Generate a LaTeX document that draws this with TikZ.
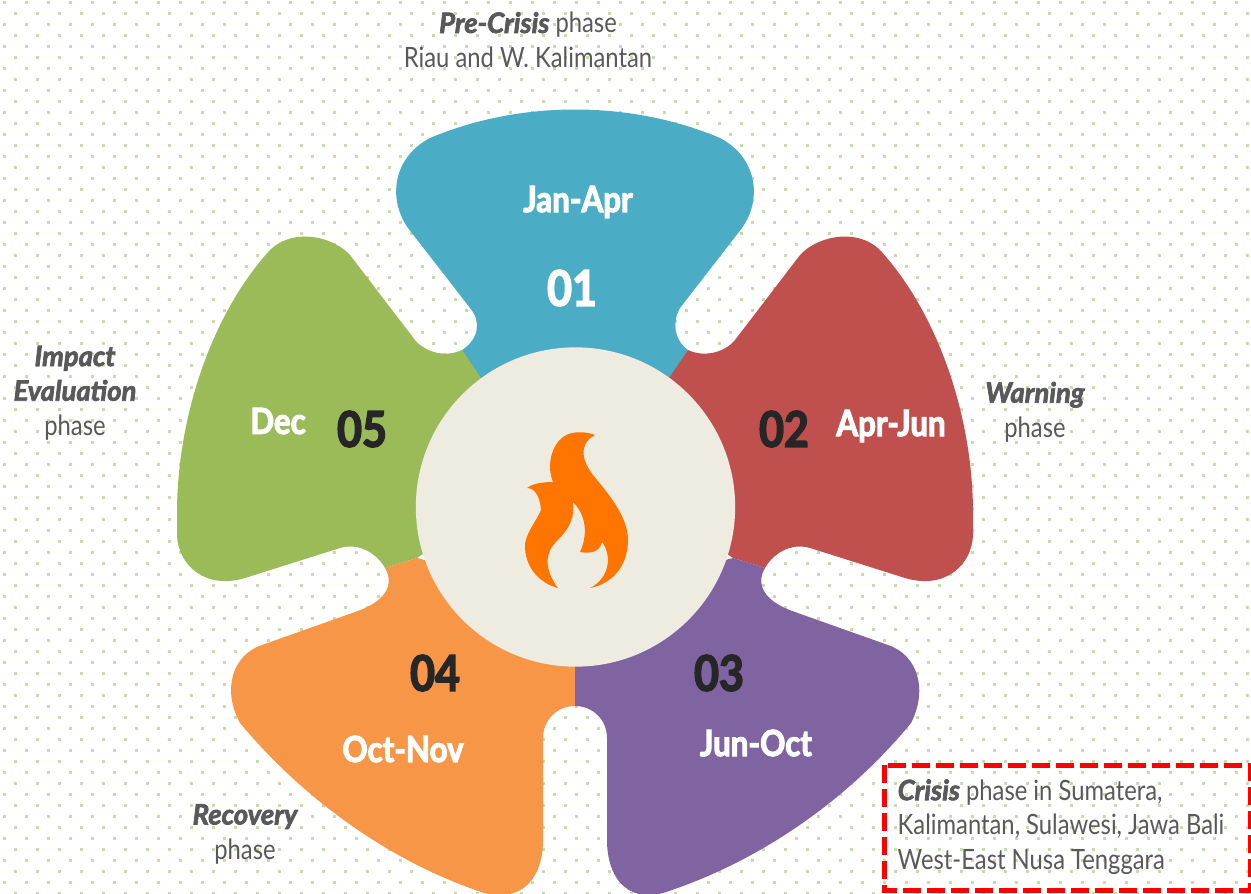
\documentclass[tikz,border=0pt]{standalone}
\usepackage{fontspec}
\newfontfamily\condfont[FakeStretch=0.85]{Lato}
\newfontfamily\headfont[FakeStretch=0.98,BoldItalicFeatures={FakeBold=2.5}]{Lato}
\newfontfamily\heavyfont[FakeStretch=0.87,BoldFeatures={FakeBold=3}]{Lato}
\newcommand{\phasehead}[1]{{\headfont\bfseries\itshape #1}}
\usetikzlibrary{positioning}
\definecolor{dotgreen}{HTML}{C9DAAB}
\definecolor{petalblue}{HTML}{4BACC6}
\definecolor{petalred}{HTML}{C0504D}
\definecolor{petalpurple}{HTML}{8064A2}
\definecolor{petalorange}{HTML}{F79646}
\definecolor{petalgreen}{HTML}{9BBB59}
\definecolor{hubcream}{HTML}{EEECE1}
\definecolor{flameorange}{HTML}{FF7500}
\definecolor{phasegray}{HTML}{595959}
\definecolor{numdark}{HTML}{262626}
\tikzset{
  monthlabel/.style={text=white,font=\heavyfont\bfseries\fontsize{27}{30}\selectfont},
  numlabel/.style={text=numdark,font=\heavyfont\bfseries\fontsize{37}{40}\selectfont},
  phaselabel/.style={text=phasegray,align=center,font=\condfont\fontsize{21}{26}\selectfont},
}
\begin{document}
\begin{tikzpicture}[x=0.75pt,y=-0.75pt]
\useasboundingbox (0,0) rectangle (1251,893);
\clip (0,0) rectangle (1251,893);

% dotted background
\foreach \i in {0,...,56} {
  \foreach \j in {0,...,40} {
    \fill[dotgreen] (4+22*\i-1.5,2+22*\j-1.5) rectangle ++(3,3);
    \fill[dotgreen] (15+22*\i-1.5,13+22*\j-1.5) rectangle ++(3,3);
  }
}

%petals
\fill[petalblue] (481,380) -- (462,350) .. controls (478,340) and (482,322) .. (470,308) -- (408,228) .. controls (388,200) and (392,158) .. (430,138) .. controls (520,100) and (630,100) .. (720,138) .. controls (758,158) and (762,200) .. (742,228) -- (680,308) .. controls (672,322) and (674,340) .. (688,350) -- (669,380) -- cycle;
\fill[petalred] (650,500) -- (669,378) -- (688,350) .. controls (705,358) and (725,352) .. (735,340) -- (800,255) .. controls (815,238) and (855,226) .. (880,250) .. controls (935,310) and (972,410) .. (973,510) -- (973,535) .. controls (972,565) and (945,590) .. (905,578) -- (810,548) .. controls (790,542) and (772,555) .. (765,568) -- (733,558) -- cycle;
\fill[petalgreen] (500,500) -- (481,378) -- (462,350) .. controls (445,358) and (425,352) .. (415,340) -- (350,255) .. controls (335,238) and (295,226) .. (270,250) .. controls (215,310) and (178,410) .. (177,510) -- (177,535) .. controls (178,565) and (205,590) .. (245,578) -- (340,548) .. controls (360,542) and (378,555) .. (385,568) -- (417,558) -- cycle;
\fill[petalorange] (575,600) -- (575,706) .. controls (557,706) and (543,720) .. (543,738) -- (543,840) .. controls (543,875) and (525,903) .. (484,893) .. controls (385,860) and (300,795) .. (240,723) .. controls (222,690) and (232,655) .. (262,645) -- (355,612) .. controls (385,602) and (395,585) .. (385,568) -- (417,558) -- cycle;
\fill[petalpurple] (575,600) -- (575,706) .. controls (593,706) and (607,720) .. (607,738) -- (607,840) .. controls (607,875) and (625,903) .. (663,893) .. controls (765,860) and (852,795) .. (911,723) .. controls (928,690) and (918,655) .. (888,645) -- (795,612) .. controls (765,602) and (755,585) .. (765,568) -- (733,558) -- cycle;

%hub
\node[circle,fill=hubcream,minimum size=239.5pt,inner sep=0pt] (hub) at (575.5,507) {};
\fill[flameorange] (595,435) .. controls (588,432) and (572,430) .. (563,437) .. controls (552,445) and (546,465) .. (553,482) .. controls (545,482) and (533,483) .. (527,488) .. controls (534,488) and (540,495) .. (541,510) .. controls (536,522) and (524,535) .. (525,548) .. controls (526,570) and (542,584) .. (558,588) .. controls (548,575) and (545,562) .. (550,550) .. controls (556,538) and (576,530) .. (573,502) .. controls (583,512) and (590,530) .. (580,552) .. controls (590,554) and (600,552) .. (602,542) .. controls (612,555) and (610,578) .. (590,588) .. controls (612,584) and (628,566) .. (628,540) .. controls (628,515) and (605,490) .. (593,475) .. controls (583,462) and (577,445) .. (595,435) -- cycle;

%months
\node[monthlabel] (jan) at (578,202) {Jan-Apr};
\node[monthlabel] (apr) at (891,426) {Apr-Jun};
\node[monthlabel] (jun) at (756,743) {Jun-Oct};
\node[monthlabel] (oct) at (403,749) {Oct-Nov};
\node[monthlabel] (dec) at (278,421) {Dec};

%numbers
\node[numlabel,text=white] (n1) at (572,288) {01};
\node[numlabel] (n2) at (784,429) {02};
\node[numlabel] (n3) at (719,673) {03};
\node[numlabel] (n4) at (435,673) {04};
\node[numlabel] (n5) at (362,429) {05};

%phases
\node[phaselabel] (prec) at (528,40) {\phasehead{Pre-Crisis} phase\\Riau and W. Kalimantan};
\node[phaselabel] (warn) at (1035,412) {\phasehead{Warning}\\phase};
\node[phaselabel] (reco) at (245,834) {\phasehead{Recovery}\\phase};
\node[phaselabel] (impa) at (75,393) {\phasehead{Impact}\\\phasehead{Evaluation}\\phase};

%crisis box
\draw[red,line width=3.75pt,dash pattern=on 13.5pt off 4.5pt] (884,765) rectangle (1250,890);
\node[phaselabel,align=left,anchor=west] (cris) at (893,827) {\phasehead{Crisis} phase in Sumatera,\\Kalimantan, Sulawesi, Jawa Bali\\West-East Nusa Tenggara};

\end{tikzpicture}
\end{document}
